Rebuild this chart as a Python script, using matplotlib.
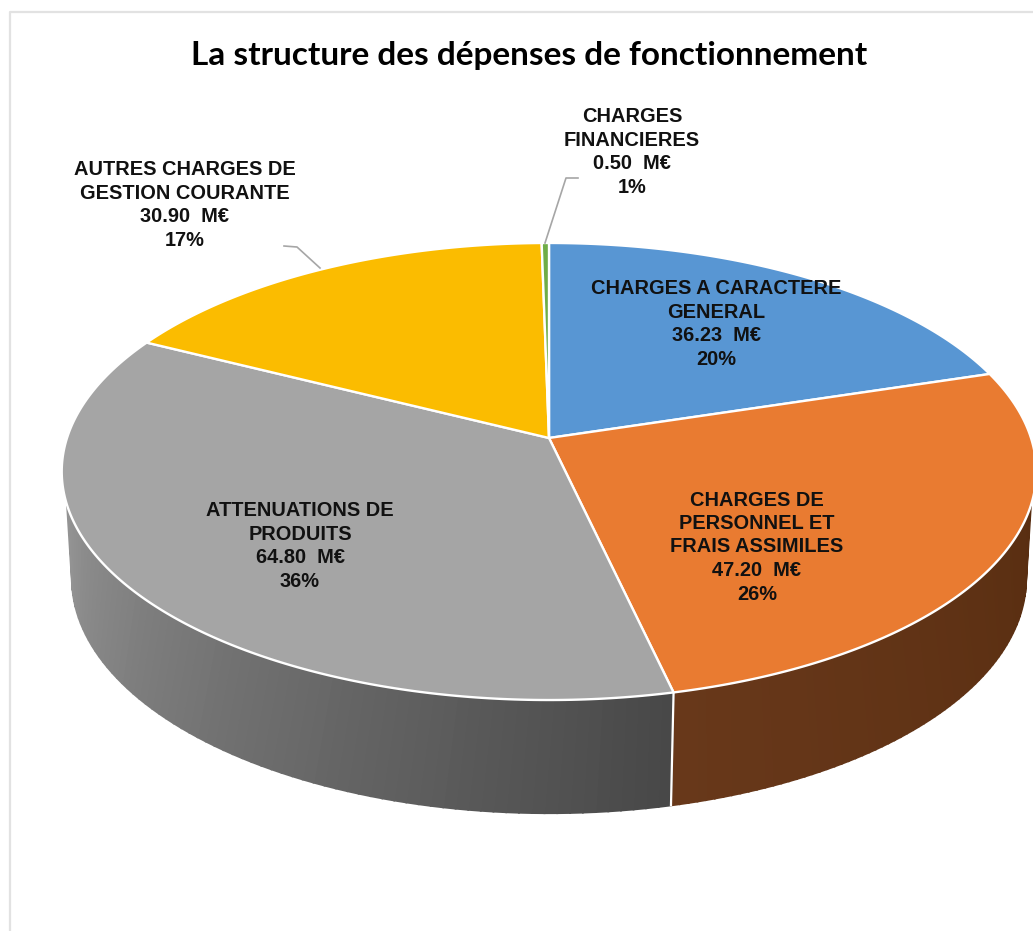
import numpy as np
import matplotlib
matplotlib.use('Agg')
import matplotlib.pyplot as plt

# donnees
noms = ['CHARGES A CARACTERE\nGENERAL', 'CHARGES DE\nPERSONNEL ET\nFRAIS ASSIMILES',
        'ATTENUATIONS DE\nPRODUITS', 'AUTRES CHARGES DE\nGESTION COURANTE', 'CHARGES\nFINANCIERES']
valeurs = [36.23, 47.20, 64.80, 30.90, 0.50]
pourcents = [20, 26, 36, 17, 1]
titre = 'La structure des dépenses de fonctionnement'

couleurs = ['#5896d3', '#e97b31', '#a5a5a5', '#fbbc00', '#70ad47']
# (position du label en pixels de l'image)
pos_labels = [(716, 324), (757, 547), (300, 546), (185, 205), (632, 152)]

W, H = 1033, 931
fig = plt.figure(figsize=(W / 100, H / 100), dpi=100)
ax = fig.add_axes([0, 0, 1, 1])
ax.set_xlim(0, W)
ax.set_ylim(H, 0)
ax.axis('off')


def haut(theta):
    # cercle superieur vu en perspective, theta en degres depuis le haut
    t = np.radians(theta)
    d = 1 + 0.1466 * np.cos(t)
    return 549 + 482 * np.sin(t) / d, (438 - 159.4 * np.cos(t)) / d


def bas(theta):
    t = np.radians(theta)
    d = 1 + 0.1466 * np.cos(t)
    return 549 + 472 * np.sin(t) / d, (544 - 150 * np.cos(t)) / d


def melange(c1, c2, f):
    c1 = np.array(matplotlib.colors.to_rgb(c1))
    c2 = np.array(matplotlib.colors.to_rgb(c2))
    return tuple(c1 + (c2 - c1) * f)


cumul = np.cumsum([0] + valeurs) / sum(valeurs) * 360
fin_orange = cumul[2]

# flanc : petites bandes pour le degrade
def flanc(h1, h2, b1, b2, c1, c2, n=70):
    hs = np.linspace(h1, h2, n + 1)
    bs = np.linspace(b1, b2, n + 1)
    for i in range(n):
        xh1, yh1 = haut(hs[i])
        xh2, yh2 = haut(hs[i + 1])
        xb1, yb1 = bas(bs[i])
        xb2, yb2 = bas(bs[i + 1])
        c = melange(c1, c2, i / (n - 1))
        ax.fill([xh1, xh2, xb2, xb1], [yh1, yh2, yb2, yb1], facecolor=c, edgecolor=c, lw=1.3, zorder=1)


flanc(106.7, fin_orange, 100, fin_orange, '#592e11', '#68381a')
flanc(fin_orange, 253.3, fin_orange, 260, '#484848', '#939393')

xh, yh = haut(fin_orange)
xb, yb = bas(fin_orange)
ax.plot([xh, xb], [yh, yb], color='white', lw=1.6, zorder=2)

# dessus du camembert
for i in range(len(valeurs)):
    th = np.linspace(cumul[i], cumul[i + 1], 200)
    x, y = haut(th)
    x = np.concatenate([[549], x])
    y = np.concatenate([[438], y])
    ax.fill(x, y, facecolor=couleurs[i], edgecolor='white', lw=1.7, joinstyle='round', zorder=3)

# traits de rappel
ax.plot([320, 297, 284], [268, 247, 246], color='#a6a6a6', lw=1.2, zorder=4)
ax.plot([545, 566, 578], [243, 178, 178], color='#a6a6a6', lw=1.2, zorder=4)

for i in range(len(valeurs)):
    txt = noms[i] + '\n{:.2f}  M€\n{}%'.format(valeurs[i], pourcents[i])
    ax.text(pos_labels[i][0], pos_labels[i][1], txt, ha='center', va='center', multialignment='center',
            family='Liberation Sans', weight='bold', fontsize=14.4, linespacing=1.3, color='#111111', zorder=5)

ax.text(529, 55, titre, ha='center', va='center', family='Lato', weight='bold', fontsize=24, color='black')

# cadre du graphique
ax.plot([1033, 10, 10], [12, 12, 931], color='#e2e2e2', lw=1.6, zorder=0)

fig.savefig('out.png', dpi=100)
